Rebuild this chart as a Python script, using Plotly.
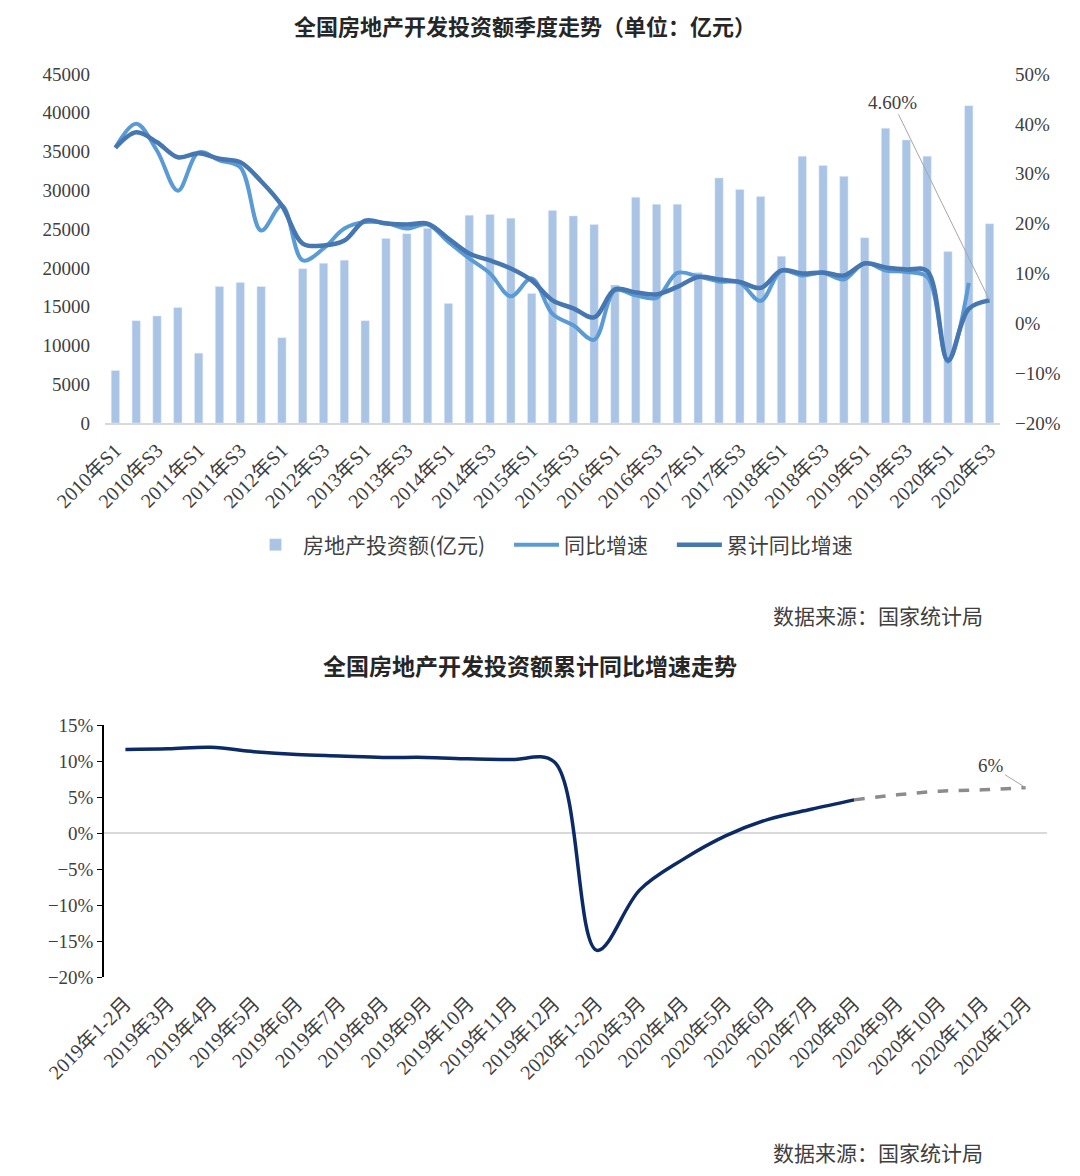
import plotly.graph_objects as go

# 上图：季度数据
quarters = [f"{y}年S{q}" for y in range(2010, 2021) for q in (1, 2, 3, 4)][:43]
invest = [6760, 13200, 13800, 14900, 9000, 17600, 18100, 17600, 11000, 19900, 20600,
          21000, 13200, 23800, 24400, 25100, 15400, 26800, 26900, 26400, 16700, 27400,
          26700, 25600, 17800, 29100, 28200, 28200, 19400, 31600, 30100, 29200, 21500,
          34400, 33200, 31800, 23900, 38000, 36500, 34400, 22100, 40900, 25700]
yoy = [35.2, 40.0, 34.6, 26.6, 34.3, 32.7, 31.3, 18.6, 23.6, 12.6, 15.0, 19.0, 20.3,
       20.1, 19.0, 19.8, 16.3, 13.0, 10.0, 5.4, 9.0, 1.9, -0.4, -3.3, 6.6, 5.6, 5.1,
       10.1, 9.4, 8.4, 8.1, 4.5, 10.5, 9.6, 10.1, 8.8, 12.1, 10.6, 10.3, 9.3, -7.7, 8.1, None]
cum_yoy = [35.2, 38.3, 36.3, 33.3, 34.1, 33.0, 32.3, 28.5, 23.6, 16.0, 15.6, 16.6, 20.6,
           20.0, 19.8, 20.0, 17.0, 14.0, 12.6, 11.0, 8.6, 4.6, 3.0, 1.2, 6.8, 6.2, 5.8,
           7.3, 9.3, 8.8, 8.3, 7.1, 10.6, 10.0, 10.2, 9.6, 12.0, 11.2, 10.8, 10.5, -7.4, 2.9, 4.6]
left_ticks = list(range(0, 45001, 5000))
right_ticks = list(range(-20, 51, 10))

# 下图：月度累计同比
months = ["2019年1-2月"] + [f"2019年{m}月" for m in range(3, 13)] + \
         ["2020年1-2月"] + [f"2020年{m}月" for m in range(3, 13)]
actual = [11.6, 11.7, 11.9, 11.3, 10.9, 10.7, 10.5, 10.5, 10.3, 10.2, 9.9,
          -16.3, -7.9, -3.7, -0.4, 1.9, 3.3, 4.6]
forecast = [4.6, 5.3, 5.8, 6.0, 6.3]
bottom_ticks = list(range(-20, 16, 5))

# 页面 body 默认有 8px 边距，图本身缩小 8px 以免出现滚动条
OFF = 8
W, H = 1080 - OFF, 1176 - OFF
SERIF = "Liberation Serif, Noto Sans CJK SC"
CJK = "Noto Sans CJK SC"
GREY = "#404040"
PAD = "\u00a0\u00a0\u00a0\u00a0"  # 图例项之间留空


def pct_text(vals):
    return [f"{v}%".replace("-", "−") for v in vals]


def px_x(v):
    return (v - OFF) / W


def px_y(v):
    return 1 - (v - OFF) / H


fig = go.Figure()

fig.add_trace(go.Bar(x=quarters, y=invest, name="房地产投资额(亿元)" + PAD,
                     marker_color="#a9c4e5", xaxis="x", yaxis="y"))
fig.add_trace(go.Scatter(x=quarters, y=yoy, name="同比增速" + PAD, mode="lines",
                         line=dict(color="#5b9bd5", width=4, shape="spline"),
                         xaxis="x", yaxis="y2"))
fig.add_trace(go.Scatter(x=quarters, y=cum_yoy, name="累计同比增速", mode="lines",
                         line=dict(color="#4677b0", width=4.5, shape="spline"),
                         xaxis="x", yaxis="y2"))

fig.add_trace(go.Scatter(x=months[:len(actual)], y=actual, mode="lines", showlegend=False,
                         line=dict(color="#0b2a66", width=3.5, shape="spline"),
                         xaxis="x3", yaxis="y3"))
fig.add_trace(go.Scatter(x=months[len(actual) - 1:], y=forecast, mode="lines", showlegend=False,
                         line=dict(color="#8c8c8c", width=3.5, dash="dash", shape="spline"),
                         xaxis="x3", yaxis="y3"))

fig.update_layout(
    width=W, height=H,
    margin=dict(l=0, r=0, t=0, b=0, autoexpand=False),
    paper_bgcolor="white", plot_bgcolor="white",
    font=dict(family=SERIF, size=16, color=GREY),
    bargap=0.6,
    showlegend=True,
    legend=dict(orientation="h", x=px_x(553), xanchor="center", y=px_y(545), yanchor="middle",
                font=dict(family=CJK, size=21, color=GREY), itemwidth=45,
                traceorder="normal"),
    xaxis=dict(domain=[px_x(105), px_x(1000)], anchor="y", type="category",
               categoryorder="array", categoryarray=quarters,
               tickvals=quarters[::2], ticktext=quarters[::2], tickangle=-45,
               tickfont=dict(size=20, color=GREY), showline=True,
               linecolor="#d9d9d9", linewidth=1.5, ticks="", showgrid=False,
               ticklabelstandoff=6, automargin=False),
    yaxis=dict(domain=[px_y(423), px_y(74)], anchor="x", range=[0, 45000],
               tickvals=left_ticks, ticktext=[str(v) for v in left_ticks],
               showgrid=False, zeroline=False, automargin=False,
               tickfont=dict(size=19, color=GREY), ticklabelstandoff=14),
    yaxis2=dict(overlaying="y", side="right", anchor="x", range=[-20, 50],
                tickvals=right_ticks, ticktext=pct_text(right_ticks), showgrid=False,
                zeroline=False, tickfont=dict(size=19, color=GREY),
                ticklabelstandoff=14, automargin=False),
    xaxis3=dict(domain=[px_x(104), px_x(1047)], anchor="y3", type="category",
                categoryorder="array", categoryarray=months, range=[-0.5, 21.5],
                tickangle=-45, tickfont=dict(size=20, color=GREY),
                showline=False, ticks="", showgrid=False, ticklabelstandoff=10,
                automargin=False),
    yaxis3=dict(domain=[px_y(977), px_y(725)], anchor="x3", range=[-20, 15],
                tickvals=bottom_ticks, ticktext=pct_text(bottom_ticks), showgrid=False,
                showline=True, linecolor="black", linewidth=1.5, ticks="outside",
                ticklen=5, tickcolor="black", zeroline=True, zerolinecolor="#d9d9d9",
                zerolinewidth=1.5, tickfont=dict(size=19, color=GREY), automargin=False),
)

fig.add_annotation(text="<b>全国房地产开发投资额季度走势（单位：亿元）</b>", xref="paper",
                   yref="paper", x=px_x(525), y=px_y(25), yanchor="middle", showarrow=False,
                   font=dict(family=CJK, size=22, color="#262626"))
fig.add_annotation(text="<b>全国房地产开发投资额累计同比增速走势</b>", xref="paper",
                   yref="paper", x=px_x(530), y=px_y(665), yanchor="middle", showarrow=False,
                   font=dict(family=CJK, size=23, color="#262626"))
for yy in (615, 1152):
    fig.add_annotation(text="数据来源：国家统计局", xref="paper", yref="paper",
                       x=px_x(985), y=px_y(yy), xanchor="right", yanchor="middle",
                       showarrow=False, font=dict(family=CJK, size=21, color=GREY))

fig.add_annotation(text="4.60%", x=quarters[-1], y=cum_yoy[-1], xref="x", yref="y2",
                   ax=-97, ay=-198, showarrow=True, arrowhead=0, arrowwidth=1,
                   arrowcolor="#a6a6a6", font=dict(family=SERIF, size=19, color=GREY))
fig.add_annotation(text="6%", x=months[-1], y=forecast[-1], xref="x3", yref="y3",
                   ax=-35, ay=-22, showarrow=True, arrowhead=0, arrowwidth=1,
                   arrowcolor="#a6a6a6", font=dict(family=SERIF, size=19, color=GREY))

fig.write_html("out.html")
